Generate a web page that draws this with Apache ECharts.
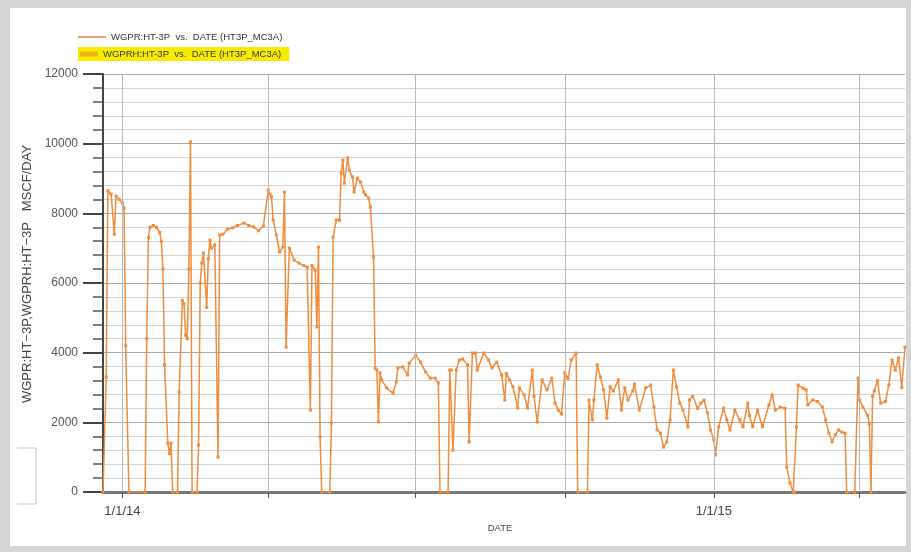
<!DOCTYPE html>
<html>
<head>
<meta charset="utf-8">
<script src="https://cdn.jsdelivr.net/npm/echarts@6/dist/echarts.min.js"></script>
<style>
  html, body { margin: 0; padding: 0; }
  #chart { width: 911px; height: 552px; }
</style>
</head>
<body>
<div id="chart"></div>
<script>
// WGPR:HT-3P daily gas rate (MSCF/DAY)
const dates = [
  '2013-12-20', '2013-12-22', '2013-12-23', '2013-12-25', '2013-12-27', '2013-12-28', '2013-12-30', '2014-01-01',
  '2014-01-02', '2014-01-03', '2014-01-05', '2014-01-15', '2014-01-16', '2014-01-17', '2014-01-18', '2014-01-20',
  '2014-01-22', '2014-01-24', '2014-01-25', '2014-01-26', '2014-01-27', '2014-01-29', '2014-01-30', '2014-01-31',
  '2014-02-01', '2014-02-04', '2014-02-05', '2014-02-07', '2014-02-08', '2014-02-09', '2014-02-10', '2014-02-11',
  '2014-02-12', '2014-02-13', '2014-02-16', '2014-02-17', '2014-02-18', '2014-02-19', '2014-02-20', '2014-02-22',
  '2014-02-23', '2014-02-24', '2014-02-25', '2014-02-27', '2014-03-01', '2014-03-02', '2014-03-04', '2014-03-07',
  '2014-03-10', '2014-03-13', '2014-03-17', '2014-03-20', '2014-03-23', '2014-03-26', '2014-03-29', '2014-04-01',
  '2014-04-02', '2014-04-03', '2014-04-04', '2014-04-06', '2014-04-08', '2014-04-10', '2014-04-11', '2014-04-12',
  '2014-04-14', '2014-04-17', '2014-04-20', '2014-04-23', '2014-04-25', '2014-04-27', '2014-04-28', '2014-04-30',
  '2014-05-01', '2014-05-02', '2014-05-03', '2014-05-04', '2014-05-09', '2014-05-10', '2014-05-11', '2014-05-13',
  '2014-05-15', '2014-05-16', '2014-05-17', '2014-05-18', '2014-05-20', '2014-05-21', '2014-05-23', '2014-05-24',
  '2014-05-26', '2014-05-28', '2014-05-30', '2014-05-31', '2014-06-02', '2014-06-03', '2014-06-05', '2014-06-06',
  '2014-06-07', '2014-06-08', '2014-06-09', '2014-06-10', '2014-06-13', '2014-06-17', '2014-06-19', '2014-06-20',
  '2014-06-23', '2014-06-26', '2014-06-27', '2014-07-01', '2014-07-04', '2014-07-07', '2014-07-10', '2014-07-13',
  '2014-07-15', '2014-07-16', '2014-07-21', '2014-07-22', '2014-07-23', '2014-07-24', '2014-07-26', '2014-07-28',
  '2014-07-30', '2014-08-02', '2014-08-03', '2014-08-05', '2014-08-07', '2014-08-08', '2014-08-12', '2014-08-15',
  '2014-08-17', '2014-08-20', '2014-08-23', '2014-08-25', '2014-08-26', '2014-08-28', '2014-08-30', '2014-09-02',
  '2014-09-03', '2014-09-06', '2014-09-08', '2014-09-11', '2014-09-12', '2014-09-14', '2014-09-17', '2014-09-20',
  '2014-09-23', '2014-09-25', '2014-09-27', '2014-09-29', '2014-10-01', '2014-10-03', '2014-10-05', '2014-10-08',
  '2014-10-09', '2014-10-15', '2014-10-16', '2014-10-18', '2014-10-19', '2014-10-21', '2014-10-23', '2014-10-25',
  '2014-10-27', '2014-10-29', '2014-10-31', '2014-11-03', '2014-11-05', '2014-11-07', '2014-11-09', '2014-11-12',
  '2014-11-13', '2014-11-16', '2014-11-20', '2014-11-23', '2014-11-25', '2014-11-27', '2014-11-29', '2014-12-01',
  '2014-12-03', '2014-12-05', '2014-12-07', '2014-12-09', '2014-12-11', '2014-12-13', '2014-12-16', '2014-12-17',
  '2014-12-19', '2014-12-22', '2014-12-24', '2014-12-26', '2014-12-28', '2014-12-30', '2015-01-01', '2015-01-02',
  '2015-01-04', '2015-01-07', '2015-01-09', '2015-01-11', '2015-01-14', '2015-01-17', '2015-01-19', '2015-01-22',
  '2015-01-23', '2015-01-25', '2015-01-28', '2015-01-31', '2015-02-04', '2015-02-06', '2015-02-08', '2015-02-11',
  '2015-02-14', '2015-02-15', '2015-02-17', '2015-02-19', '2015-02-20', '2015-02-21', '2015-02-22', '2015-02-25',
  '2015-02-27', '2015-02-28', '2015-03-03', '2015-03-06', '2015-03-09', '2015-03-11', '2015-03-13', '2015-03-15',
  '2015-03-17', '2015-03-19', '2015-03-21', '2015-03-23', '2015-03-24', '2015-03-29', '2015-03-31', '2015-04-01',
  '2015-04-03', '2015-04-06', '2015-04-07', '2015-04-08', '2015-04-09', '2015-04-10', '2015-04-12', '2015-04-14',
  '2015-04-17', '2015-04-19', '2015-04-21', '2015-04-23', '2015-04-25', '2015-04-27', '2015-04-29'
];

const rates = [
  0, 3300, 8650, 8550, 7400, 8500, 8400, 8300,
  8150, 4200, 0, 0, 4400, 7300, 7600, 7650,
  7600, 7450, 7200, 6400, 3650, 1400, 1100, 1400,
  0, 0, 2870, 5500, 5400, 4500, 4400, 6400,
  10050, 0, 0, 1350, 6000, 6570, 6860, 5300,
  6700, 7230, 7000, 7100, 1000, 7380, 7400, 7550,
  7580, 7650, 7720, 7650, 7610, 7500, 7640, 8670,
  8550, 8470, 7810, 7380, 6890, 7030, 8610, 4160,
  7000, 6660, 6570, 6500, 6450, 2350, 6500, 6370,
  4740, 7030, 1580, 0, 0, 1980, 7320, 7810,
  7800, 9160, 9530, 8870, 9590, 9240, 9040, 8610,
  9010, 8900, 8610, 8530, 8440, 8180, 6750, 3560,
  3500, 2010, 3420, 3220, 2990, 2840, 3160, 3560,
  3590, 3360, 3700, 3930, 3730, 3450, 3270, 3270,
  3130, 0, 0, 3500, 3500, 1200, 3500, 3790,
  3820, 3650, 1440, 3990, 3990, 3500, 3990, 3790,
  3560, 3730, 3360, 2640, 3400, 3220, 3020, 2410,
  2990, 2790, 2410, 3500, 2750, 2010, 3220, 2930,
  3270, 2550, 2350, 2240, 3420, 3250, 3790, 3990,
  0, 0, 2640, 2070, 2640, 3650, 3300, 2930,
  2120, 3020, 2900, 3220, 2350, 2990, 2640, 2900,
  3100, 2350, 2990, 3070, 2440, 1780, 1690, 1290,
  1440, 2070, 3500, 3020, 2550, 2350, 1870, 2640,
  2750, 2400, 2550, 2640, 2270, 1780, 1500, 1060,
  1870, 2410, 2070, 1780, 2350, 2070, 1870, 2550,
  2200, 1870, 2350, 1870, 2500, 2790, 2350, 2440,
  2400, 720, 260, 0, 0, 1870, 3070, 2980,
  2930, 2500, 2640, 2600, 2440, 2070, 1690, 1440,
  1650, 1780, 1720, 1690, 0, 0, 3270, 2640,
  2440, 2200, 1960, 0, 2750, 2900, 3200, 2550,
  2600, 3070, 3790, 3500, 3850, 3000, 4160
];

const quarterDates = ['2014-01-01', '2014-04-01', '2014-07-01', '2014-10-01', '2015-01-01', '2015-04-01'];
const labelDates = ['2014-01-01', '2015-01-01'];

const seriesNames = [
  'WGPR:HT-3P  vs.  DATE (HT3P_MC3A)',
  'WGPRH:HT-3P  vs.  DATE (HT3P_MC3A)'
];

const lineColor = '#f08c3c';
const fontFamily = '"Liberation Sans", Arial, sans-serif';

const chart = echarts.init(document.getElementById('chart'));

// dates -> local-time milliseconds, plotted on a plain value axis
const toTime = s => {
  const p = s.split('-').map(Number);
  return new Date(p[0], p[1] - 1, p[2]).getTime();
};

const option = {
  backgroundColor: '#d6d6d6',
  animation: false,
  textStyle: { fontFamily: fontFamily },
  graphic: [
    {
      type: 'rect',
      z: -10,
      shape: { x: 10, y: 8, width: 896, height: 538 },
      style: { fill: '#ffffff' }
    },
    {
      type: 'polyline',
      z: -5,
      shape: { points: [[17, 448], [36, 448], [36, 504], [17, 504]] },
      style: { stroke: '#c4c4c4', lineWidth: 1, fill: null }
    }
  ],
  legend: [
    {
      left: 78,
      top: 32,
      itemGap: 4,
      itemWidth: 28,
      itemHeight: 2,
      padding: 0,
      selectedMode: false,
      data: [{ name: seriesNames[0], icon: 'rect', itemStyle: { color: '#ec9b7c' } }],
      textStyle: { fontSize: 9.5, color: '#333' }
    },
    {
      left: 78,
      top: 47,
      itemGap: 8,
      itemWidth: 18,
      itemHeight: 5,
      padding: [2, 8, 2, 2],
      backgroundColor: '#f7ec00',
      selectedMode: false,
      data: [{ name: seriesNames[1], icon: 'rect', itemStyle: { color: '#f3b21a' } }],
      textStyle: { fontSize: 9.5, color: '#333' }
    }
  ],
  grid: {
    left: 103,
    right: 6,
    top: 74,
    bottom: 60
  },
  xAxis: {
    type: 'value',
    min: toTime('2013-12-20'),
    max: toTime('2015-04-29'),
    name: 'DATE',
    nameLocation: 'middle',
    nameGap: 30,
    nameTextStyle: { fontSize: 9.5, color: '#444', padding: [0, 8, 0, 0] },
    axisLine: { lineStyle: { color: '#777', width: 3 } },
    axisTick: {
      show: true,
      length: 6,
      customValues: quarterDates.map(toTime),
      lineStyle: { color: '#555', width: 1 }
    },
    axisLabel: {
      customValues: labelDates.map(toTime),
      margin: 13,
      fontSize: 13,
      color: '#444',
      formatter: v => {
        const d = new Date(v);
        return (d.getMonth() + 1) + '/' + d.getDate() + '/' + String(d.getFullYear()).slice(2);
      }
    },
    splitLine: { show: false }
  },
  yAxis: {
    type: 'value',
    min: 0,
    max: 12000,
    interval: 2000,
    name: 'WGPR:HT\u22123P,WGPRH:HT\u22123P   MSCF/DAY',
    nameLocation: 'middle',
    nameGap: 63,
    nameTextStyle: { fontSize: 13, color: '#444', padding: [0, 0, 0, 18] },
    axisLine: { show: true, lineStyle: { color: '#444', width: 2 } },
    axisTick: { show: true, length: 20, lineStyle: { color: '#444', width: 2 } },
    minorTick: { show: true, splitNumber: 5, length: 10, lineStyle: { color: '#555', width: 1.5 } },
    axisLabel: { margin: 25, fontSize: 12, color: '#555', formatter: v => String(v) },
    splitLine: { show: true, lineStyle: { color: '#a8a8a8', width: 1 } },
    minorSplitLine: { show: true, lineStyle: { color: '#d4d4d4', width: 1 } }
  },
  series: [
    {
      name: seriesNames[0],
      type: 'line',
      z: 3,
      data: dates.map((d, i) => [toTime(d), rates[i]]),
      symbol: 'rect',
      symbolSize: 3,
      showSymbol: true,
      showAllSymbol: true,
      lineStyle: { color: lineColor, width: 1.5 },
      itemStyle: { color: lineColor },
      emphasis: { disabled: true }
    },
    {
      name: seriesNames[1],
      type: 'line',
      data: [],
      itemStyle: { color: '#f3b21a' }
    },
    {
      name: 'quarters',
      type: 'line',
      z: 1,
      data: [],
      markLine: {
        silent: true,
        symbol: 'none',
        label: { show: false },
        lineStyle: { color: '#b8b8b8', width: 1, type: 'solid' },
        data: quarterDates.map(d => ({ xAxis: toTime(d) }))
      }
    }
  ]
};

chart.setOption(option);
</script>
</body>
</html>
